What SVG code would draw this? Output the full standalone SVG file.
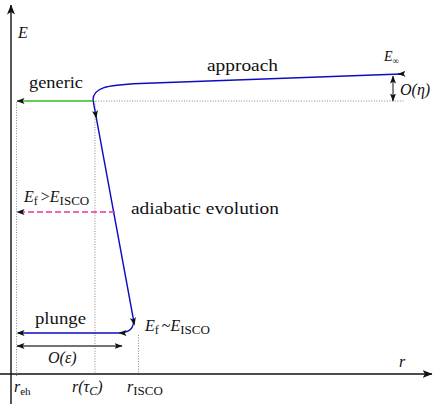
<svg xmlns="http://www.w3.org/2000/svg" width="434" height="404" viewBox="0 0 434 404">
<style>
text{fill:#111;font-size:16px;font-family:"Liberation Serif","Times New Roman",serif}
.it{font-style:italic}
.dot{fill:none;stroke:#888;stroke-width:1;stroke-dasharray:1,1.6}
.blue{fill:none;stroke:#0d0dc0;stroke-width:1.4}
.ax{fill:none;stroke:#111;stroke-width:1.4}
</style>
<defs>
<marker id="ah" viewBox="0 0 8 6" refX="7.5" refY="3" markerWidth="8" markerHeight="6" markerUnits="userSpaceOnUse" orient="auto-start-reverse">
<path d="M0,0 L8,3 L0,6 L1.8,3 z" fill="#111"/>
</marker>
<marker id="axh" viewBox="0 0 10 8" refX="9.5" refY="4" markerWidth="10" markerHeight="8" markerUnits="userSpaceOnUse" orient="auto">
<path d="M0,0 L10,4 L0,8 L2.5,4 z" fill="#111"/>
</marker>
</defs>
<g id="axes">
<line class="ax" x1="11" y1="404" x2="11" y2="5" marker-end="url(#axh)"/>
<line class="ax" x1="0" y1="374" x2="432" y2="374" marker-end="url(#axh)"/>
</g>
<g id="guides">
<line class="dot" x1="16.5" y1="102" x2="16.5" y2="376"/>
<line class="dot" x1="95" y1="101" x2="95" y2="374"/>
<line class="dot" x1="138.5" y1="335" x2="138.5" y2="374"/>
<line class="dot" x1="93" y1="101" x2="404" y2="101"/>
</g>
<g id="connectors">
<path class="blue" d="M401,74 L140,83.5 C105,85 93,88 93,100 L133,317 C135,327 131,333 118,333 L18,333"/>
<path d="M401,74 L398,74.1" stroke="#0d0dc0" fill="none" marker-end="url(#ah)"/>
<path d="M93,100 L96.3,118" stroke="none" fill="none" marker-end="url(#ah)"/>
<path d="M130,305 L134.5,325" stroke="none" fill="none" marker-end="url(#ah)"/>
<path d="M130,333 L119,333" stroke="none" fill="none" marker-end="url(#ah)"/>
<path d="M30,333 L17,333" stroke="none" fill="none" marker-end="url(#ah)"/>
<line x1="93" y1="101" x2="17" y2="101" stroke="#33bb22" stroke-width="1.4" marker-end="url(#ah)"/>
<line x1="115" y1="212" x2="17" y2="212" stroke="#ee3399" stroke-width="1.3" stroke-dasharray="6,3"/>
<path d="M30,212 L17,212" stroke="none" fill="none" marker-end="url(#ah)"/>
<line x1="393" y1="76" x2="393" y2="101" stroke="#111" stroke-width="1" marker-start="url(#ah)" marker-end="url(#ah)"/>
<line x1="17" y1="346" x2="122" y2="346" stroke="#444" stroke-width="1.3" marker-start="url(#ah)" marker-end="url(#ah)"/>
</g>
<g id="labels">
<text class="it" x="18" y="38" font-size="18">E</text>
<text x="29" y="88" font-size="18" textLength="54" lengthAdjust="spacingAndGlyphs">generic</text>
<text x="207" y="71" font-size="18" textLength="71" lengthAdjust="spacingAndGlyphs">approach</text>
<text x="384" y="61"><tspan class="it" font-size="14">E</tspan><tspan font-size="9" dy="3">∞</tspan></text>
<text x="400" y="95" class="it" font-size="17">O(η)</text>
<text x="24" y="202" font-size="17"><tspan class="it">E</tspan><tspan font-size="12" dy="3">f</tspan><tspan dy="-3" dx="3">&gt;</tspan><tspan class="it">E</tspan><tspan font-size="13" dy="3">ISCO</tspan></text>
<text x="131" y="214" font-size="18" textLength="148" lengthAdjust="spacingAndGlyphs">adiabatic evolution</text>
<text x="35" y="324" font-size="18" textLength="51" lengthAdjust="spacingAndGlyphs">plunge</text>
<text x="145" y="331" font-size="17"><tspan class="it">E</tspan><tspan font-size="12" dy="3">f</tspan><tspan dy="-3" dx="3">~</tspan><tspan class="it">E</tspan><tspan font-size="13" dy="3">ISCO</tspan></text>
<text x="48" y="363" class="it" font-size="17">O(ε)</text>
<text x="399" y="367" class="it" font-size="17">r</text>
<text x="14" y="392" font-size="18"><tspan class="it">r</tspan><tspan font-size="11" dy="3">eh</tspan></text>
<text x="72" y="392" font-size="18" class="it">r(τ<tspan font-size="12" dy="3">C</tspan><tspan dy="-3">)</tspan></text>
<text x="127" y="392" font-size="18"><tspan class="it">r</tspan><tspan font-size="13" dy="3">ISCO</tspan></text>
</g>
</svg>
